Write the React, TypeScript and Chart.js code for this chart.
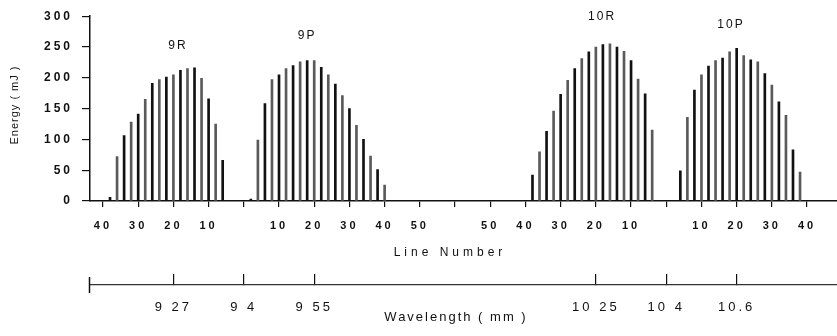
import React, { useEffect, useRef } from 'react';
import { Chart, registerables } from 'chart.js';

Chart.register(...registerables);

// ---------- data ----------
// x positions are expressed in "line-number units" along one continuous axis
const X_MIN = -3.69;
const X_MAX = 208.5;

const LINE_TICK_POS = [0, 10, 20, 30, 40, 50, 60, 70, 80, 90, 100, 110, 120, 130, 140, 150, 160, 170, 180, 190, 200];
const LINE_TICK_LABELS = ['40', '30', '20', '10', '', '10', '20', '30', '40', '50', '', '50', '40', '30', '20', '10', '', '10', '20', '30', '40'];

const WL_TICK_POS = [20, 40, 60, 140, 160, 180];
const WL_TICK_LABELS = ['9 27', '9 4', '9 55', '10 25', '10 4', '10.6'];

const BAND_NAMES = ['9R', '9P', '10R', '10P'];
const BAND_CENTERS = [40, 40, 160, 160];
const BAND_DIRS = [-1, 1, -1, 1];

const R9_LINES = [38, 36, 34, 32, 30, 28, 26, 24, 22, 20, 18, 16, 14, 12, 10, 8, 6];
const R9_ENERGY = [6, 72, 106, 128, 141, 165, 191, 197, 201, 205, 212, 215, 216, 199, 166, 125, 66];

const P9_LINES = [2, 4, 6, 8, 10, 12, 14, 16, 18, 20, 22, 24, 26, 28, 30, 32, 34, 36, 38, 40];
const P9_ENERGY = [3, 99, 158, 197, 205, 215, 220, 226, 228, 228, 217, 205, 190, 171, 150, 123, 100, 73, 51, 26];

const R10_LINES = [38, 36, 34, 32, 30, 28, 26, 24, 22, 20, 18, 16, 14, 12, 10, 8, 6, 4];
const R10_ENERGY = [42, 80, 113, 146, 173, 196, 215, 231, 242, 250, 254, 255, 250, 243, 228, 198, 174, 115];

const P10_LINES = [4, 6, 8, 10, 12, 14, 16, 18, 20, 22, 24, 26, 28, 30, 32, 34, 36, 38];
const P10_ENERGY = [49, 136, 180, 205, 219, 228, 232, 242, 248, 236, 229, 226, 207, 188, 161, 139, 83, 47];

const BAND_LINES = [R9_LINES, P9_LINES, R10_LINES, P10_LINES];
const BAND_ENERGY = [R9_ENERGY, P9_ENERGY, R10_ENERGY, P10_ENERGY];

// label anchors (in axis units)
const BAND_LABEL_X = [21, 57.7, 141.5, 178.1];
const BAND_LABEL_Y = [252, 268, 300, 287];

const FONT = '"Liberation Sans", Arial, Helvetica, sans-serif';

const textPlugin = {
  id: 'texts',
  beforeDraw(chart: any) {
    chart.ctx.letterSpacing = '3px';
  },
  afterDraw(chart: any) {
    const { ctx } = chart;
    const x = chart.scales.x;
    const y = chart.scales.y;
    const x2 = chart.scales.x2;
    ctx.save();
    ctx.fillStyle = '#111';
    ctx.strokeStyle = '#111';
    ctx.textAlign = 'center';
    ctx.textBaseline = 'middle';

    // band labels
    ctx.font = `12px ${FONT}`;
    ctx.letterSpacing = '2px';
    BAND_NAMES.forEach((n, i) => {
      ctx.fillText(n, x.getPixelForValue(BAND_LABEL_X[i]) + 1, y.getPixelForValue(BAND_LABEL_Y[i]));
    });

    // x title
    ctx.font = `12px ${FONT}`;
    ctx.letterSpacing = '4px';
    ctx.fillText('Line Number', 450, 253);

    // wavelength title
    ctx.font = `13px ${FONT}`;
    ctx.letterSpacing = '2px';
    ctx.fillText('Wavelength ( mm )', 456, 317);

    // y title
    ctx.font = `11px ${FONT}`;
    ctx.letterSpacing = '1px';
    ctx.translate(15, 105);
    ctx.rotate(-Math.PI / 2);
    ctx.fillText('Energy ( mJ )', 0, 0);
    ctx.setTransform(1, 0, 0, 1, 0, 0);

    // left end mark of wavelength axis
    ctx.lineWidth = 1.5;
    ctx.beginPath();
    ctx.moveTo(x2.left - 0.5, x2.top - 8);
    ctx.lineTo(x2.left - 0.5, x2.top + 8);
    ctx.stroke();

    ctx.restore();
    ctx.letterSpacing = '0px';
  },
};

export default function App() {
  const ref = useRef<HTMLCanvasElement | null>(null);

  useEffect(() => {
    const canvas = ref.current;
    if (!canvas) return;

    const datasets = BAND_NAMES.map((name, b) => ({
      label: name,
      data: BAND_LINES[b].map((j, i) => ({ x: BAND_CENTERS[b] + BAND_DIRS[b] * j, y: BAND_ENERGY[b][i] })),
      backgroundColor: (c: any) => (c.dataIndex % 2 === 0 ? '#111' : '#5a5a5a'),
      borderWidth: 0,
      barThickness: 2,
      grouped: false,
    }));

    const chart = new Chart(canvas, {
      type: 'bar',
      data: { datasets } as any,
      options: {
        animation: false,
        responsive: false,
        devicePixelRatio: 1,
        layout: { padding: { top: 15, right: 0, bottom: 0, left: 0 } },
        plugins: { legend: { display: false }, tooltip: { enabled: false } },
        scales: {
          x: {
            type: 'linear',
            position: 'bottom',
            weight: 0,
            offset: false,
            min: X_MIN,
            max: X_MAX,
            afterBuildTicks: (s: any) => {
              s.ticks = LINE_TICK_POS.map((v) => ({ value: v }));
            },
            afterFit: (s: any) => {
              s.height = 84;
            },
            ticks: {
              autoSkip: false,
              maxRotation: 0,
              minRotation: 0,
              padding: 12,
              color: '#111',
              font: { family: FONT, size: 11, weight: 'bold' },
              callback: (_v: any, i: number) => LINE_TICK_LABELS[i],
            },
            grid: { display: true, drawOnChartArea: false, drawTicks: true, tickLength: 6, color: '#111', lineWidth: 1.2, offset: false },
            border: { display: true, color: '#111', width: 1.5 },
          },
          x2: {
            type: 'linear',
            position: 'bottom',
            weight: 1,
            offset: false,
            min: X_MIN,
            max: X_MAX,
            afterBuildTicks: (s: any) => {
              s.ticks = WL_TICK_POS.map((v) => ({ value: v }));
            },
            afterFit: (s: any) => {
              s.height = 51;
            },
            ticks: {
              autoSkip: false,
              maxRotation: 0,
              minRotation: 0,
              padding: 26,
              color: '#111',
              font: { family: FONT, size: 13 },
              callback: (_v: any, i: number) => WL_TICK_LABELS[i],
            },
            grid: { display: true, drawOnChartArea: false, drawTicks: true, tickLength: -11, color: '#111', lineWidth: 1.2, offset: false },
            border: { display: true, color: '#333', width: 1.2 },
          },
          y: {
            type: 'linear',
            min: 0,
            max: 300,
            afterFit: (s: any) => {
              s.width = 90;
            },
            ticks: {
              stepSize: 50,
              padding: 9,
              color: '#111',
              font: { family: FONT, size: 12, weight: 'bold' },
            },
            grid: { display: true, drawOnChartArea: false, drawTicks: true, tickLength: 8, color: '#111', lineWidth: 1.2 },
            border: { display: true, color: '#111', width: 1.5 },
          },
        },
      } as any,
      plugins: [textPlugin],
    });

    return () => {
      chart.destroy();
    };
  }, []);

  return (
    <div style={{ position: 'fixed', left: 0, top: 0, width: 837, height: 336, background: '#fff' }}>
      <canvas ref={ref} width={837} height={336} style={{ display: 'block', width: 837, height: 336 }} />
    </div>
  );
}
